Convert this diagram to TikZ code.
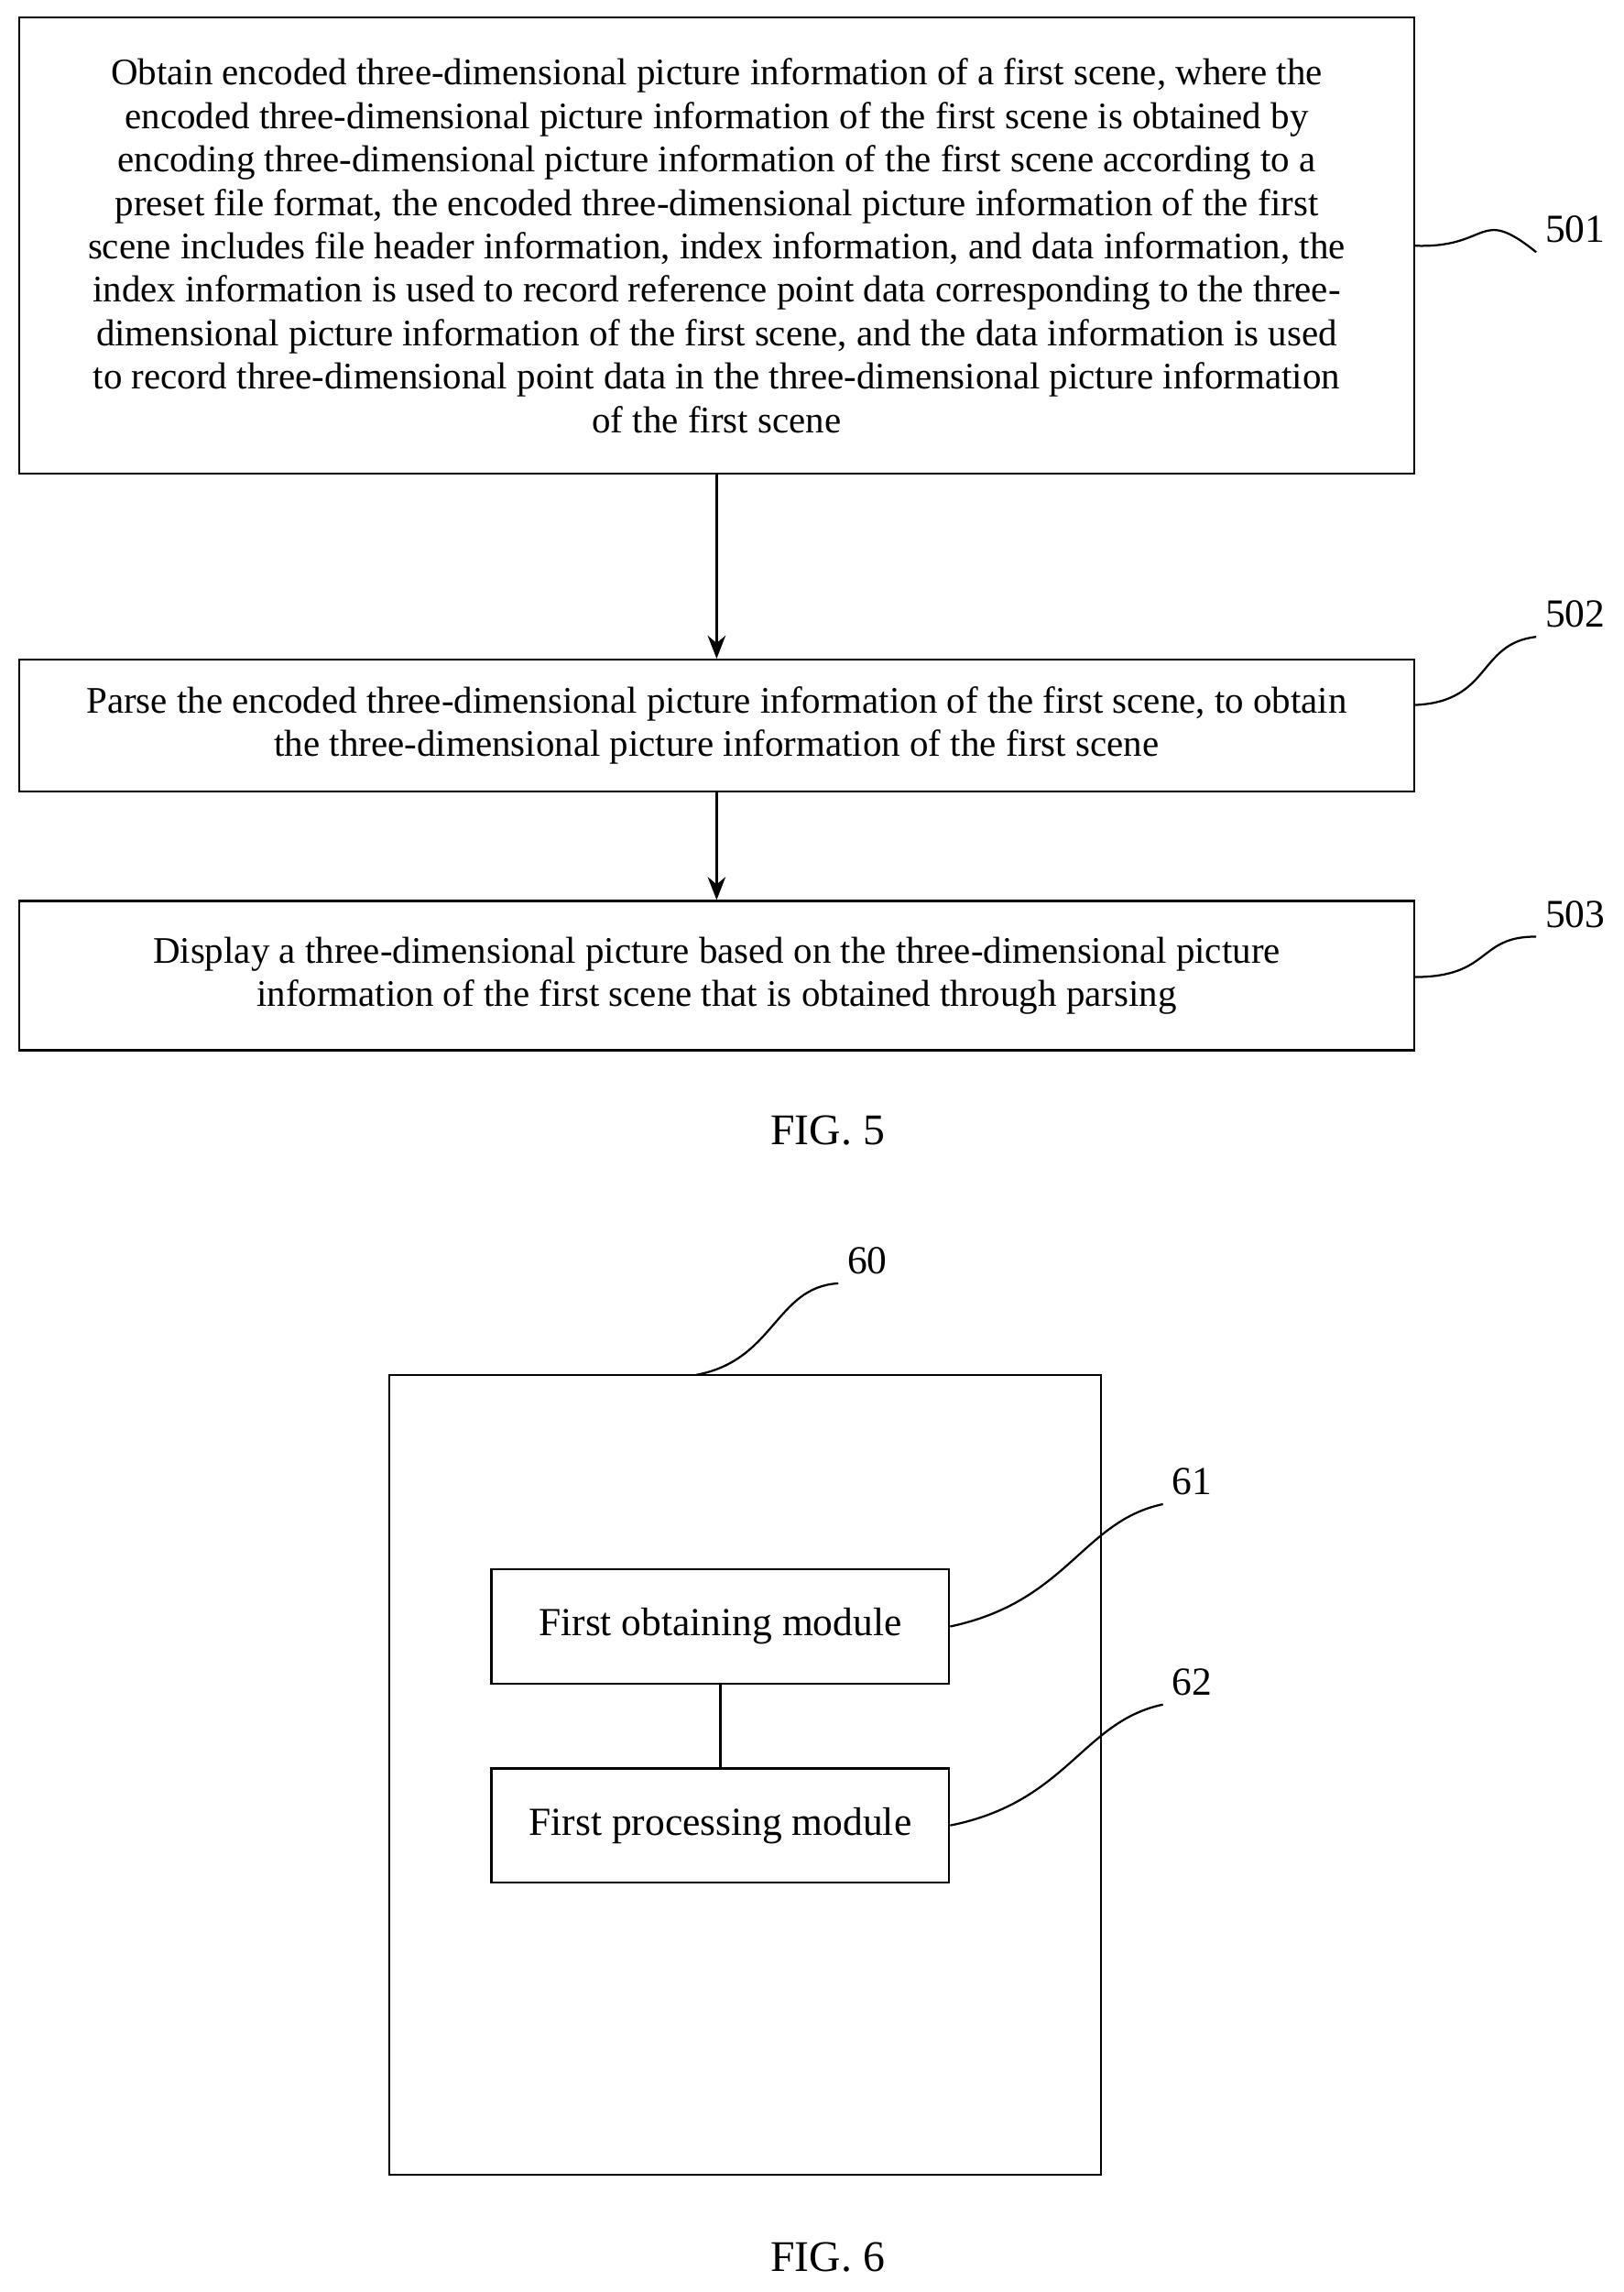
\documentclass[tikz,border=0pt]{standalone}
\usepackage{fontspec}
\setmainfont{Liberation Serif}
\usetikzlibrary{positioning, arrows.meta}

\begin{document}
\begin{tikzpicture}[
        x=0.02cm, y=-0.02cm,
        stepbox/.style={rectangle, draw=black, thick, inner sep=0pt, align=center, font=\fontsize{14.6}{16.9}\selectfont},
        module/.style={rectangle, draw=black, thick, minimum width=6.26cm, minimum height=1.56cm, font=\fontsize{15.5}{18}\selectfont},
        tag/.style={font=\fontsize{15.5}{18}\selectfont},
        arrow/.style={-{Stealth[length=9pt,width=7pt]}, thick},
        lead/.style={thick}
        ]
        \useasboundingbox (0,0) rectangle (1110,1567);

        % FIG. 5
        \node[stepbox, minimum width=19.08cm, minimum height=6.24cm] (obtain) at (490,168) {Obtain encoded three-dimensional picture information of a first scene, where the\\
encoded three-dimensional picture information of the first scene is obtained by\\
encoding three-dimensional picture information of the first scene according to a\\
preset file format, the encoded three-dimensional picture information of the first\\
scene includes file header information, index information, and data information, the\\
index information is used to record reference point data corresponding to the three-\\
dimensional picture information of the first scene, and the data information is used\\
to record three-dimensional point data in the three-dimensional picture information\\
of the first scene};
        \node[stepbox, minimum width=19.08cm, minimum height=1.8cm] (parse) at (490,496) {Parse the encoded three-dimensional picture information of the first scene, to obtain\\
the three-dimensional picture information of the first scene};
        \node[stepbox, minimum width=19.08cm, minimum height=2.04cm] (display) at (490,667) {Display a three-dimensional picture based on the three-dimensional picture\\
information of the first scene that is obtained through parsing};

        \draw[arrow] (obtain) -- (parse);
        \draw[arrow] (parse) -- (display);

        \node[tag] (n501) at (1077,157) {501};
        \node[tag] (n502) at (1077,420) {502};
        \node[tag] (n503) at (1077,625) {503};
        \coordinate (e501) at (967,168);
        \coordinate (e502) at (967,482);
        \coordinate (e503) at (967,668);
        \draw[lead] (e501) .. controls (1020,170) and (1010,140) .. (n501.south west);
        \draw[lead] (e502) .. controls (1020,480) and (1010,440) .. (n502.south west);
        \draw[lead] (e503) .. controls (1020,668) and (1010,640) .. (n503.south west);

        \node[tag, font=\fontsize{17}{20}\selectfont] (fig5) at (566,773) {FIG. 5};

        % FIG. 6
        \node[rectangle, draw=black, thick, minimum width=9.74cm, minimum height=10.94cm] (device) at (509.5,1213.5) {};
        \node[module] (first) at (492.5,1112) {First obtaining module};
        \node[module] (second) at (492.5,1248) {First processing module};
        \draw[lead] (first) -- (second);

        \node[tag] (n60) at (593,862) {60};
        \node[tag] (n61) at (815,1013) {61};
        \node[tag] (n62) at (815,1150) {62};
        \coordinate (e60) at (476,940);
        \draw[lead] (e60) .. controls (530,930) and (530,880) .. (n60.south west);
        \draw[lead] (first.east) .. controls (730,1095) and (740,1040) .. (n61.south west);
        \draw[lead] (second.east) .. controls (730,1232) and (740,1177) .. (n62.south west);

        \node[tag, font=\fontsize{17}{20}\selectfont] (fig6) at (566,1543) {FIG. 6};
    \end{tikzpicture}
\end{document}
